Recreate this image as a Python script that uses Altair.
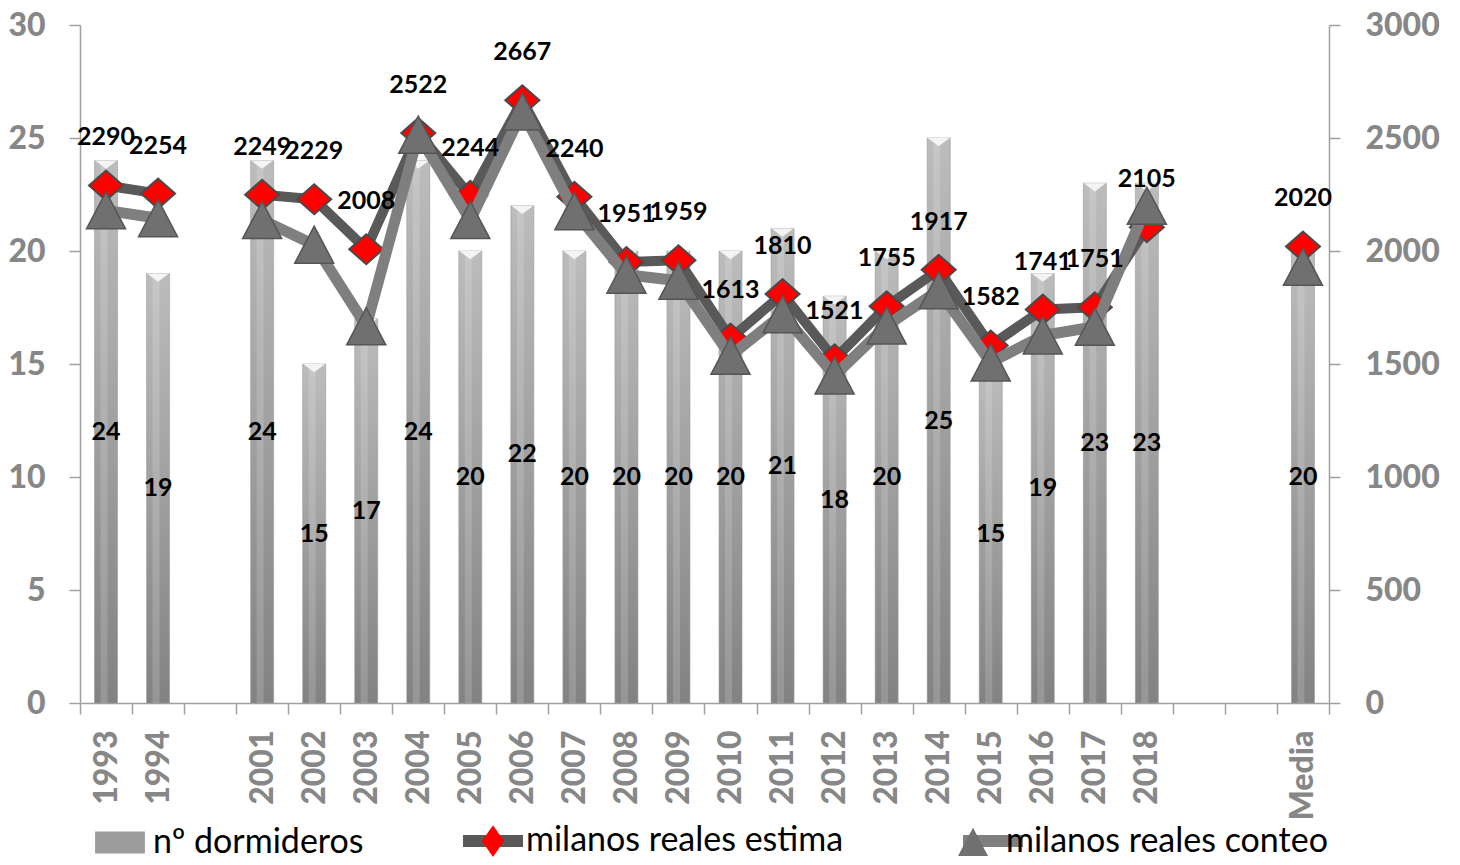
import altair as alt
import pandas as pd

# ---- data ----
categories = ["1993", "1994", "2001", "2002", "2003", "2004", "2005", "2006", "2007",
              "2008", "2009", "2010", "2011", "2012", "2013", "2014", "2015", "2016",
              "2017", "2018", "Media"]
axis_slots = ["1993", "1994", " ", "2001", "2002", "2003", "2004", "2005", "2006", "2007",
              "2008", "2009", "2010", "2011", "2012", "2013", "2014", "2015", "2016",
              "2017", "2018", "  ", "   ", "Media"]
segment = ["a", "a", "b", "b", "b", "b", "b", "b", "b", "b", "b", "b", "b", "b", "b",
           "b", "b", "b", "b", "b", "c"]
dormideros = [24, 19, 24, 15, 17, 24, 20, 22, 20, 20, 20, 20, 21, 18, 20, 25, 15, 19, 23, 23, 20]
estima = [2290, 2254, 2249, 2229, 2008, 2522, 2244, 2667, 2240, 1951, 1959, 1613, 1810,
          1521, 1755, 1917, 1582, 1741, 1751, 2105, 2020]
conteo = [2180, 2145, 2137, 2028, 1667, 2515, 2137, 2617, 2176, 1895, 1868, 1537, 1720,
          1449, 1670, 1826, 1507, 1626, 1665, 2200, 1930]

series_names = ["nº dormideros", "milanos reales estima", "milanos reales conteo"]
line_keys = ["e", "c"]

df = pd.DataFrame({"cat": categories, "seg": segment, "dorm": dormideros,
                   "estima": estima, "conteo": conteo})
df["series"] = series_names[0]
df["key"] = line_keys[0]

FONT = "Lato"
AXIS_GRAY = "#878787"
LINE_GRAY = "#a0a0a0"
AXIS_WEIGHT = 900

x_scale = alt.Scale(domain=axis_slots, paddingInner=0, paddingOuter=0)
x_axis = alt.Axis(title=None, labelAngle=-90, tickBand="extent", tickSize=11,
                  labelPadding=16, labelFontSize=32, labelFontWeight=AXIS_WEIGHT,
                  labelFont=FONT, labelColor=AXIS_GRAY)
X = alt.X("cat:N", scale=x_scale, axis=x_axis)

left_scale = alt.Scale(domain=[0, 30], nice=False)
left_axis = alt.Axis(title=None, values=[0, 5, 10, 15, 20, 25, 30], tickSize=11,
                     labelPadding=24, orient="left", labelFontWeight=AXIS_WEIGHT,
                     labelFont=FONT, labelFontSize=32, labelColor=AXIS_GRAY)
right_scale = alt.Scale(domain=[0, 3000], nice=False)
right_axis = alt.Axis(title=None, orient="right", format="d",
                      values=[0, 500, 1000, 1500, 2000, 2500, 3000],
                      tickSize=11, labelPadding=25, labelFontWeight=AXIS_WEIGHT,
                      labelFont=FONT, labelFontSize=32, labelColor=AXIS_GRAY)


def yl(field):
    return alt.Y(field, scale=left_scale, axis=left_axis)


def yr(field):
    return alt.Y(field, scale=right_scale, axis=right_axis)


bar_grad = alt.Gradient(gradient="linear",
                        stops=[alt.GradientStop(color="#bcbcbc", offset=0),
                               alt.GradientStop(color="#a0a0a0", offset=0.5),
                               alt.GradientStop(color="#828282", offset=1)],
                        x1=0, x2=0, y1=0, y2=1)

bars = alt.Chart(df).mark_bar(size=23, fill=bar_grad, stroke="#9a9a9a", strokeWidth=0.6).encode(
    x=X, y=yl("dorm:Q"))
bar_shine = alt.Chart(df).mark_bar(size=7, color="white", opacity=0.16, xOffset=-2).encode(
    x=X, y=yl("dorm:Q"))
bar_cap = alt.Chart(df).mark_point(shape="M-1,0H1L0,0.75Z", size=484, filled=True,
                                   color="#f4f4f4", opacity=1, strokeWidth=0).encode(
    x=X, y=yl("dorm:Q"))
bar_labels = alt.Chart(df).transform_calculate(mid="datum.dorm / 2").mark_text(
    font=FONT, fontWeight="bold", fontSize=25, color="black", baseline="middle").encode(
    x=X, y=yl("mid:Q"), text="dorm:Q")

left = alt.layer(bars, bar_shine, bar_cap, bar_labels)

# ---- legends (built from empty layers so that scales give the entries) ----
fill_scale = alt.Scale(domain=series_names, range=["#9c9c9c", "#ff0000", "#707070"])
shape_scale = alt.Scale(domain=series_names,
                        range=["M-0.83,-0.37H0.83V0.37H-0.83Z",
                               "M0,-0.53L0.37,0L0,0.53L-0.37,0Z",
                               "M0,-0.47L0.5,0.47H-0.5Z"])
legend_pts = alt.Legend(orient="none", legendX=9, legendY=785, direction="horizontal",
                        title=None, labelFont=FONT, labelFontSize=34, labelColor="black",
                        labelLimit=0, labelOffset=2, columnPadding=98, padding=0,
                        symbolSize=3600, symbolStrokeWidth=2, symbolStrokeColor="#4a4a4a",
                        symbolOpacity=1)
stroke_scale = alt.Scale(domain=line_keys, range=["#595959", "#7f7f7f"])
legend_lines = alt.Legend(orient="none", legendX=377, legendY=780, direction="horizontal",
                          title=None, labelExpr="''", labelOffset=0, columnPadding=392,
                          padding=0, symbolSize=3600, symbolStrokeWidth=12,
                          symbolType="stroke", labelFontSize=12)

leg_lines_layer = alt.Chart(df).transform_filter("false").mark_line(strokeWidth=12).encode(
    x=X, y=yr("estima:Q"),
    color=alt.Color("key:N", scale=stroke_scale, legend=legend_lines))
leg_pts_layer = alt.Chart(df).transform_filter("false").mark_point(
    filled=True, opacity=1, stroke="#4a4a4a", strokeWidth=2).encode(
    x=X, y=yr("estima:Q"),
    fill=alt.Fill("series:N", scale=fill_scale, legend=legend_pts),
    shape=alt.Shape("series:N", scale=shape_scale, legend=legend_pts))

# ---- lines and markers ----
est_line = alt.Chart(df).mark_line(strokeWidth=10, strokeJoin="round", color="#595959").encode(
    x=X, y=yr("estima:Q"), detail="seg:N")
est_pts = alt.Chart(df).mark_point(shape="M-1,0L0,-0.88L1,0L0,0.88Z", size=1156, filled=True,
                                   fill="#ff0000", stroke="#4a4a4a", strokeWidth=2,
                                   opacity=1).encode(x=X, y=yr("estima:Q"))
con_line = alt.Chart(df).mark_line(strokeWidth=11, strokeJoin="round", color="#7f7f7f").encode(
    x=X, y=yr("conteo:Q"), detail="seg:N")
con_pts = alt.Chart(df).mark_point(shape="M0,-0.95L1,0.95H-1Z", size=1521, filled=True,
                                   fill="#707070", stroke="#555555", strokeWidth=1.5,
                                   opacity=1).encode(x=X, y=yr("conteo:Q"))
est_labels = alt.Chart(df).mark_text(font=FONT, fontWeight="bold", fontSize=25, color="black",
                                     baseline="middle", dy=-48).encode(
    x=X, y=yr("estima:Q"), text="estima:Q")

right = alt.layer(leg_lines_layer, leg_pts_layer, est_line, est_pts, con_line, con_pts,
                  est_labels)

chart = alt.layer(left, right).resolve_scale(y="independent").properties(
    width=1249, height=678,
    autosize=alt.AutoSizeParams(type="none"),
    padding={"left": 72, "top": 17, "right": 111, "bottom": 154},
    background="white",
).configure_view(stroke=None).configure_axis(
    labelFont=FONT, labelFontWeight=AXIS_WEIGHT, labelFontSize=32, labelColor=AXIS_GRAY,
    domainColor=LINE_GRAY, tickColor=LINE_GRAY, domainWidth=1.5, tickWidth=1.5, grid=False,
)

chart.save("out.html", embed_options={"renderer": "svg", "actions": False})
